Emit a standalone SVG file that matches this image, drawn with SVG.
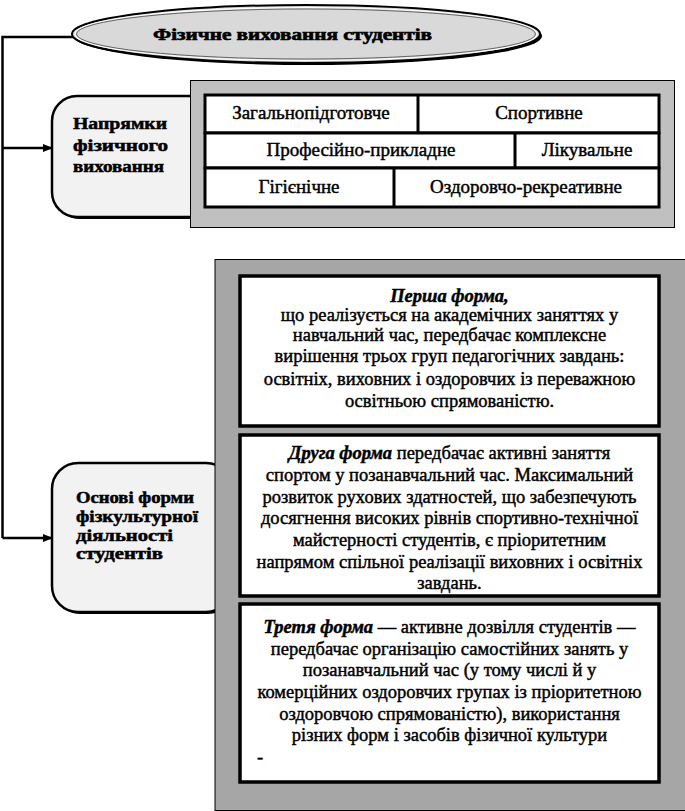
<svg xmlns="http://www.w3.org/2000/svg" width="685" height="811" viewBox="0 0 685 811" font-family="'Liberation Serif', 'Times New Roman', 'DejaVu Serif', serif">
<defs>
<style>
text{font-family:'Liberation Serif','Times New Roman','DejaVu Serif',serif}
.lbl{font-weight:bold;font-size:16px;fill:#000}
.cell{font-size:19px;fill:#000;text-anchor:middle;stroke:#000;stroke-width:0.45}
.body{font-size:18.5px;fill:#000;text-anchor:middle;stroke:#000;stroke-width:0.45}
.bi{font-weight:bold;font-style:italic}
.conn{fill:none;stroke:#000;stroke-width:2.5}
.rbox{fill:#f2f2f2;stroke:#000;stroke-width:2.5}
.rshadow{fill:#000}
.tbl{fill:#fff;stroke:#000;stroke-width:3}
.card{fill:#fff;stroke:#000;stroke-width:3.5}
</style>
<marker id="arr" viewBox="0 0 10 10" refX="9" refY="5" markerWidth="4" markerHeight="4" orient="auto" markerUnits="strokeWidth">
<path d="M0,1 L10,5 L0,9 Z" fill="#000"/>
</marker>
</defs>
<rect width="685" height="811" fill="#fff"/>

<g id="connectors">
<path class="conn" d="M73,37 H2.5 V538"/>
<path class="conn" d="M2.5,148 H52" marker-end="url(#arr)"/>
<path class="conn" d="M2.5,538 H52" marker-end="url(#arr)"/>
</g>

<g id="title">
<ellipse cx="308" cy="36" rx="234" ry="29" fill="#000"/>
<ellipse cx="306" cy="34" rx="234" ry="29" fill="#d9d9d9" stroke="#000" stroke-width="2"/>
<ellipse cx="306" cy="34" rx="231" ry="26.5" fill="none" stroke="#fff" stroke-width="1.2"/>
<ellipse cx="306" cy="34" rx="229.5" ry="25" fill="none" stroke="#444" stroke-width="0.8"/>
<text class="lbl" x="153" y="40" font-size="18" textLength="279" lengthAdjust="spacingAndGlyphs" stroke="#000" stroke-width="0.6">Фізичне виховання  студентів</text>
</g>

<g id="directions">
<rect x="54" y="98" width="170" height="121" rx="25" class="rshadow"/>
<rect x="52" y="96" width="170" height="121" rx="25" class="rbox"/>
<text class="lbl" x="73" y="129" textLength="94" lengthAdjust="spacingAndGlyphs" stroke="#000" stroke-width="0.5">Напрямки</text>
<text class="lbl" x="73" y="151" textLength="95" lengthAdjust="spacingAndGlyphs" stroke="#000" stroke-width="0.5">фізичного</text>
<text class="lbl" x="73" y="172" textLength="91" lengthAdjust="spacingAndGlyphs" stroke="#000" stroke-width="0.5">виховання</text>
</g>

<g id="directions-panel">
<rect x="190.5" y="80.5" width="484" height="147" fill="#c0c0c0" stroke="#000" stroke-width="1"/>
<rect x="205" y="95" width="454" height="38" class="tbl"/>
<rect x="205" y="133" width="454" height="35" class="tbl"/>
<rect x="205" y="168" width="454" height="39" class="tbl"/>
<line x1="418" y1="95" x2="418" y2="133" stroke="#000" stroke-width="3"/>
<line x1="515" y1="133" x2="515" y2="168" stroke="#000" stroke-width="3"/>
<line x1="394" y1="168" x2="394" y2="207" stroke="#000" stroke-width="3"/>
<text class="cell" x="311" y="119">Загальнопідготовче</text>
<text class="cell" x="539" y="119">Спортивне</text>
<text class="cell" x="361" y="156">Професійно-прикладне</text>
<text class="cell" x="587" y="156">Лікувальне</text>
<text class="cell" x="299" y="193">Гігієнічне</text>
<text class="cell" x="526" y="193">Оздоровчо-рекреативне</text>
</g>

<g id="forms">
<rect x="54" y="465" width="180" height="149" rx="26" class="rshadow"/>
<rect x="52" y="463" width="180" height="149" rx="26" class="rbox"/>
<text class="lbl" x="76" y="503" textLength="118" lengthAdjust="spacingAndGlyphs" stroke="#000" stroke-width="0.5">Основі форми</text>
<text class="lbl" x="76" y="522" textLength="122" lengthAdjust="spacingAndGlyphs" stroke="#000" stroke-width="0.5">фізкультурної</text>
<text class="lbl" x="76" y="541" textLength="97" lengthAdjust="spacingAndGlyphs" stroke="#000" stroke-width="0.5">діяльності</text>
<text class="lbl" x="76" y="559" textLength="87" lengthAdjust="spacingAndGlyphs" stroke="#000" stroke-width="0.5">студентів</text>
</g>

<g id="forms-panel">
<rect x="215" y="259.5" width="471" height="551" fill="#a6a6a6" stroke="#000" stroke-width="1"/>
</g>

<g id="form-1">
<rect x="240" y="276" width="419" height="150" class="card"/>
<text class="body" x="449.5" y="302"><tspan class="bi">Перша форма,</tspan></text>
<text class="body" x="449.5" y="321">що реалізується на академічних заняттях у</text>
<text class="body" x="449.5" y="341">навчальний час, передбачає комплексне</text>
<text class="body" x="449.5" y="362">вирішення трьох груп педагогічних завдань:</text>
<text class="body" x="449.5" y="385">освітніх, виховних і оздоровчих із переважною</text>
<text class="body" x="449.5" y="407">освітньою спрямованістю.</text>
</g>

<g id="form-2">
<rect x="240" y="435" width="419" height="161" class="card"/>
<text class="body" x="449.5" y="459"><tspan class="bi">Друга форма</tspan> передбачає активні заняття</text>
<text class="body" x="449.5" y="481">спортом у позанавчальний час. Максимальний</text>
<text class="body" x="449.5" y="503">розвиток рухових здатностей, що забезпечують</text>
<text class="body" x="449.5" y="524">досягнення високих рівнів спортивно-технічної</text>
<text class="body" x="449.5" y="546">майстерності студентів, є пріоритетним</text>
<text class="body" x="449.5" y="568">напрямом спільної реалізації виховних і освітніх</text>
<text class="body" x="449.5" y="589">завдань.</text>
</g>

<g id="form-3">
<rect x="240" y="604" width="419" height="178" class="card"/>
<text class="body" x="449.5" y="633"><tspan class="bi">Третя форма</tspan> — активне дозвілля студентів —</text>
<text class="body" x="449.5" y="655">передбачає організацію самостійних занять у</text>
<text class="body" x="449.5" y="676">позанавчальний час (у тому числі й у</text>
<text class="body" x="449.5" y="698">комерційних оздоровчих групах із пріоритетною</text>
<text class="body" x="449.5" y="720">оздоровчою спрямованістю), використання</text>
<text class="body" x="449.5" y="741">різних форм і засобів фізичної культури</text>
<text class="body" x="257" y="763" style="text-anchor:start">-</text>
</g>
</svg>
